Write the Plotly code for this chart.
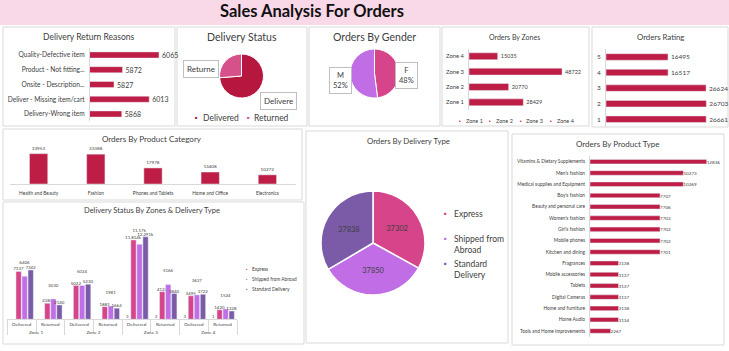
import plotly.graph_objects as go

W, H = 729, 351
def fx(p): return p / W
def fy(p): return 1 - p / H

CRIMSON = "#BE1E46"
TXT = "#404040"
GRID = "#D9D9D9"
FONT = "Lato"
C_EXP = "#D6448A"
C_SHIP = "#C06DE6"
C_STD = "#7B5AA8"
C_OTHER = "#9E1A3C"
C_DELIV = "#B5173F"
C_RET = "#D6508A"

# ---------------- data ----------------
return_reasons = ["Quality-Defective item", "Product - Not fitting...", "Onsite - Description...",
                  "Deliver - Missing item/cart", "Delivery-Wrong item"]
return_counts = [6065, 5872, 5827, 6013, 5868]

status_labels = ["Delivered", "Returned"]
status_values = [83345, 29645]

gender_labels = ["F", "M"]
gender_values = [48, 52]

zones = ["Zone 4", "Zone 3", "Zone 2", "Zone 1"]
zone_orders = [15035, 48722, 20770, 28429]
zone_legend = ["Zone 1", "Zone 2", "Zone 3", "Zone 4"]

ratings = ["5", "4", "3", "2", "1"]
rating_orders = [16495, 16517, 26624, 26703, 26661]

categories = ["Health and Beauty", "Fashion", "Phones and Tablets", "Home and Office", "Electronics"]
category_orders = [33953, 33388, 17978, 13408, 10272]

zone_level = ["Zone 1", "Zone 1", "Zone 2", "Zone 2", "Zone 3", "Zone 3", "Zone 4", "Zone 4"]
status_level = ["Delivered", "Returned"] * 4
other_type = [None, None, None, None, 3, 3, 3, 1]
express = [7137, 2380, 5022, 1883, 11814, 4122, 3495, 1420]
shipped = [6406, 3030, 5034, 1981, 11170, 5166, 3637, 1524]
standard = [7342, 2140, 5230, 1664, 12291, 3840, 3722, 1228]
type_series = ["Express", "Shipped from Abroad", "Standard Delivery"]

delivery_types = ["Express", "Shipped from Abroad", "Standard Delivery"]
delivery_type_orders = [37302, 37850, 37838]

product_types = ["Vitamins & Dietary Supplements", "Men's fashion", "Medical supplies and Equipment",
                 "Boy's fashion", "Beauty and personal care", "Women's fashion", "Girl's fashion",
                 "Mobile phones", "Kitchen and dining", "Fragrances", "Mobile accessories", "Tablets",
                 "Digital Cameras", "Home and furniture", "Home Audio", "Tools and Home improvements"]
product_type_orders = [12836, 10273, 10269, 7707, 7706, 7703, 7702, 7702, 7701,
                       3138, 3137, 3137, 3137, 3138, 3134, 2267]

fig = go.Figure()

def hbar(x, y, ax, w, tsize):
    fig.add_trace(go.Bar(x=x, y=y, orientation="h", marker_color=CRIMSON, width=w, offset=-w / 2,
                         text=x, textposition="outside", textfont=dict(size=tsize, color=TXT),
                         cliponaxis=False, constraintext="none", textangle=0,
                         xaxis="x" + ax, yaxis="y" + ax, showlegend=False, hoverinfo="skip"))

hbar(return_counts, return_reasons, "", 0.42, 7)
hbar(zone_orders, zones, "2", 0.45, 5.5)
hbar(rating_orders, ratings, "3", 0.42, 6.5)
hbar(product_type_orders, product_types, "6", 0.4, 4.6)

fig.add_trace(go.Bar(x=categories, y=category_orders, marker_color=CRIMSON, width=0.32, offset=-0.16,
                     text=category_orders, textposition="outside", textfont=dict(size=4.6, color=TXT),
                     cliponaxis=False, constraintext="none", textangle=0,
                     xaxis="x4", yaxis="y4", showlegend=False, hoverinfo="skip"))

# middle series labels raised (as the reference does with leader lines)
for vals, col, name, tmpl in [(other_type, C_OTHER, "", "%{y}"), (express, C_EXP, type_series[0], "%{y}"),
                              (shipped, C_SHIP, type_series[1], "%{y}<br> <br> "),
                              (standard, C_STD, type_series[2], "%{y}")]:
    fig.add_trace(go.Bar(x=[zone_level, status_level], y=vals, marker_color=col, name=name,
                         texttemplate=tmpl, textposition="outside", textfont=dict(size=4.4, color=TXT),
                         cliponaxis=False, constraintext="none", textangle=0,
                         xaxis="x5", yaxis="y5", showlegend=False, hoverinfo="skip"))

def pdom(cx, cy, r):
    return dict(x=[fx(cx - r), fx(cx + r)], y=[fy(cy + r), fy(cy - r)])

fig.add_trace(go.Pie(labels=status_labels, values=status_values, sort=False, direction="clockwise",
                     marker=dict(colors=[C_DELIV, C_RET], line=dict(color="white", width=1)),
                     textinfo="none", domain=pdom(241.5, 76, 22), showlegend=False, hoverinfo="skip"))
fig.add_trace(go.Pie(labels=gender_labels, values=gender_values, sort=False, direction="clockwise",
                     marker=dict(colors=[C_EXP, C_SHIP], line=dict(color="white", width=1)),
                     textinfo="none", domain=pdom(374.5, 73.5, 24.5), showlegend=False, hoverinfo="skip"))
fig.add_trace(go.Pie(labels=delivery_types, values=delivery_type_orders, sort=False, direction="clockwise",
                     marker=dict(colors=[C_EXP, C_SHIP, C_STD], line=dict(color="white", width=1.5)),
                     texttemplate="%{value:d}", textposition="inside", insidetextorientation="horizontal",
                     textfont=dict(size=7.5, color=TXT), domain=pdom(373, 243, 52),
                     showlegend=False, hoverinfo="skip"))

# ---------------- layout ----------------
def hidden(dom, rng, anchor):
    return dict(domain=[fx(dom[0]), fx(dom[1])], range=rng, visible=False, anchor=anchor, fixedrange=True)

def catax(dom, anchor, size):
    return dict(domain=[fy(dom[1]), fy(dom[0])], autorange="reversed", showline=True, linecolor=GRID,
                linewidth=1, ticks="", showgrid=False, tickfont=dict(size=size, color=TXT),
                anchor=anchor, ticklabelstandoff=3, fixedrange=True)

layout = dict(
    width=W, height=H, margin=dict(l=0, r=0, t=0, b=0), paper_bgcolor="white", plot_bgcolor="rgba(0,0,0,0)",
    font=dict(family=FONT, color=TXT), barmode="group", bargap=0.16, bargroupgap=0.12,
    xaxis=hidden((90, 170), [5700, 6123], "y"), yaxis=catax((47.6, 121.4), "x", 6.6),
    xaxis2=hidden((469, 579), [0, 57600], "y2"), yaxis2=catax((48.6, 110), "x2", 5.8),
    xaxis3=hidden((606, 721), [0, 30600], "y3"), yaxis3=catax((49.2, 127), "x3", 6.5),
    xaxis6=hidden((590, 725), [0, 14850], "y6"), yaxis6=catax((156, 336.6), "x6", 4.8),
    xaxis4=dict(domain=[fx(10), fx(296)], showline=True, linecolor=GRID, ticks="", anchor="y4",
                tickfont=dict(size=4.8, color=TXT), tickangle=0, ticklabelstandoff=4, fixedrange=True),
    yaxis4=dict(domain=[fy(184), fy(148)], range=[0, 40300], visible=False, anchor="x4", fixedrange=True),
    xaxis5=dict(domain=[fx(7.3), fx(237)], showline=True, linecolor=GRID, ticks="outside", tickson="boundaries",
                ticklen=12, tickcolor=GRID, showdividers=True, dividercolor=GRID, anchor="y5", tickangle=0,
                tickfont=dict(size=4.6, color=TXT), fixedrange=True),
    yaxis5=dict(domain=[fy(319.3), fy(228)], range=[0, 13600], visible=False, anchor="x5", fixedrange=True),
)

shapes = [dict(type="rect", xref="paper", yref="paper", x0=0, x1=1, y0=fy(25), y1=1,
               fillcolor="#F9D8E7", line=dict(width=0), layer="below")]
panels = [(3, 27, 175, 126), (177, 27, 307, 126), (309, 27, 440, 126), (442, 27, 589, 126),
          (592, 27, 728, 127), (3, 129, 302, 200), (3, 202, 304, 344), (306, 131, 508, 343),
          (512, 134, 724, 345)]
for x0, y0, x1, y1 in panels:
    shapes.append(dict(type="rect", xref="paper", yref="paper", x0=fx(x0), x1=fx(x1), y0=fy(y1), y1=fy(y0),
                       fillcolor="white", line=dict(color=GRID, width=1), layer="below"))
layout["shapes"] = shapes

anns = []
def ann(text, x, y, size, color=TXT, xanchor="center", yanchor="middle", **kw):
    anns.append(dict(text=text, x=fx(x), y=fy(y), xref="paper", yref="paper", showarrow=False,
                     font=dict(size=size, color=color, family=FONT), xanchor=xanchor, yanchor=yanchor, **kw))

ann("<b>Sales Analysis For Orders</b>", 312, 10.5, 16.5, color="#111111")
ann("Delivery Return Reasons", 88, 36.5, 8.5)
ann("Delivery Status", 242, 37.5, 10.5)
ann("Orders By Gender", 374, 37.5, 10.5)
ann("Orders By Zones", 514, 37.5, 7)
ann("Orders Rating", 660, 37.5, 7.8)
ann("Orders By Product Category", 152, 139.5, 8)
ann("Delivery Status By Zones & Delivery Type", 152, 210.5, 7.5)
ann("Orders By Delivery Type", 408, 140.5, 7.8)
ann("Orders By Product Type", 618, 144, 8)

# pie callouts
box = dict(bordercolor="#BFBFBF", borderwidth=1, bgcolor="white", borderpad=3)
ann("Returne", 201, 68.5, 8, **box)
ann("Delivere", 278, 101.5, 8, **box)
ann("M<br>52%", 340.5, 80, 7.5, **box)
ann("F<br>48%", 406.5, 76, 7.5, **box)

# legends
def leg(marker_color, text, x, y, size):
    ann("■", x, y, size * 0.5, color=marker_color)
    ann(text, x + 3 + size * 0.1, y, size, xanchor="left", align="left")

leg(C_DELIV, status_labels[0], 197, 117.5, 8.5)
leg(C_RET, status_labels[1], 248, 117.5, 8.5)
for i, z in enumerate(zone_legend):
    leg(CRIMSON, z, 460 + 30.4 * i, 121.3, 5.5)
for i, (c, t) in enumerate(zip([C_EXP, C_SHIP, C_STD], type_series)):
    leg(c, t, 247, 269.3 + 10 * i, 4.8)
ann("■", 445.7, 213.7, 4.5, color=C_EXP)
ann(delivery_types[0], 451.5, 213.7, 8.5, xanchor="left")
ann("■", 445.7, 238, 4.5, color=C_SHIP)
ann("Shipped from<br>Abroad", 451.5, 232, 8.5, xanchor="left", yanchor="top", align="left")
ann("■", 445.7, 263, 4.5, color=C_STD)
ann("Standard<br>Delivery", 451.5, 257, 8.5, xanchor="left", yanchor="top", align="left")

layout["annotations"] = anns
fig.update_layout(**layout)
fig.write_html("out.html")
